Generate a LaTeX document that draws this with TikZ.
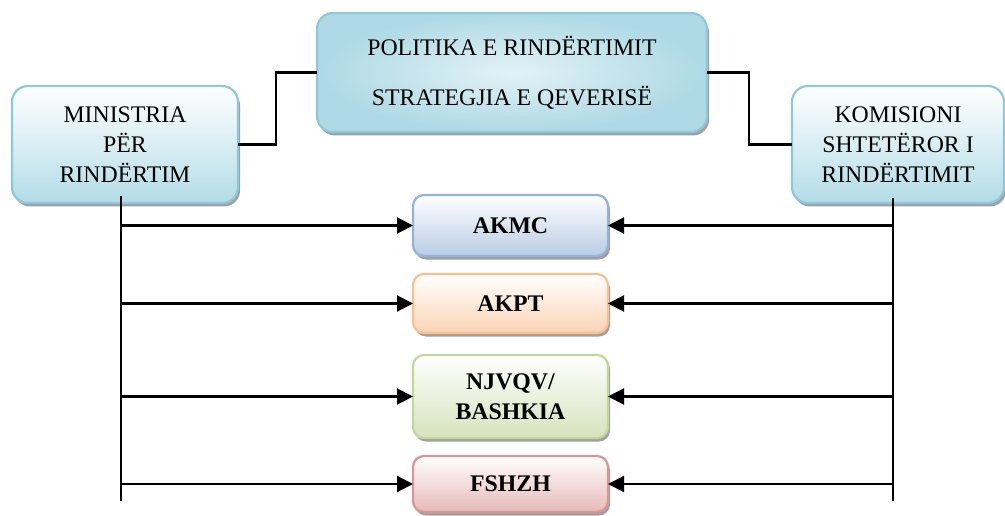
\documentclass[tikz,border=0pt]{standalone}
\usepackage{fontspec}
\setmainfont{Liberation Serif}
\usetikzlibrary{arrows.meta,shadows,shapes.misc}
\definecolor{cyanB}{HTML}{8FC9D9}
\definecolor{cyanF}{HTML}{B3DCE7}
\definecolor{cyanL}{HTML}{E3F2F6}
\definecolor{blueB}{HTML}{95B3D7}
\definecolor{blueF}{HTML}{B8CCE4}
\definecolor{orB}{HTML}{FAC090}
\definecolor{orF}{HTML}{FBD4B4}
\definecolor{grB}{HTML}{C3D69B}
\definecolor{grF}{HTML}{D6E3BC}
\definecolor{rdB}{HTML}{D99694}
\definecolor{rdF}{HTML}{E6B9B8}
\tikzset{
  boxbase/.style={draw, line width=2.2pt, outer sep=0pt, inner sep=0pt, align=center,
    font=\fontsize{23.8}{30}\selectfont,
    drop shadow={shadow xshift=2pt, shadow yshift=-3.5pt, fill=black!50, opacity=0.75}},
  bigbox/.style={boxbase, rounded corners=16pt, draw=cyanB, top color=white, bottom color=cyanF},
  smallbox/.style={boxbase, rounded corners=11pt, minimum width=195pt, font=\fontsize{23.8}{30}\selectfont\bfseries},
  conn/.style={line width=2.2pt, black},
  arr/.style={conn, -{Triangle[length=16pt,width=16pt]}}
}
\begin{document}
\begin{tikzpicture}[x=1pt,y=-1pt]
\useasboundingbox (0,0) rectangle (1005,516);
% top box
\node[boxbase, rounded corners=16pt, draw=cyanB, inner color=cyanL, outer color=cyanF!85!cyanB,
  minimum width=390pt, minimum height=119pt] (pol) at (512,72.5)
  {POLITIKA E RINDËRTIMIT\\[20pt]STRATEGJIA E QEVERISË};
% side boxes
\node[bigbox, minimum width=226pt, minimum height=117pt] (min) at (125,144.5)
  {MINISTRIA\\PËR\\RINDËRTIM};
\node[bigbox, minimum width=212pt, minimum height=117pt] (kom) at (898,144.5)
  {KOMISIONI\\SHTETËROR I\\RINDËRTIMIT};
% middle boxes
\node[smallbox, draw=blueB, top color=white, bottom color=blueF, minimum height=61pt] (akmc) at (510.5,225.5) {AKMC};
\node[smallbox, draw=orB, top color=white, bottom color=orF, minimum height=59pt] (akpt) at (510.5,303.5) {AKPT};
\node[smallbox, draw=grB, top color=white, bottom color=grF, minimum height=83pt] (njv) at (510.5,396.5) {NJVQV/\\BASHKIA};
\node[smallbox, draw=rdB, top color=white, bottom color=rdF, minimum height=56pt] (fsh) at (510.5,484) {FSHZH};
% connectors top
\draw[conn] (min.east) -- ++(38,0) |- (pol.west);
\draw[conn] (pol.east) -- ++(42,0) |- (kom.west);
% vertical lines
\coordinate (lt) at (121,196);
\coordinate (lb) at (121,501);
\coordinate (rt) at (893,198);
\coordinate (rb) at (893,501);
\draw[conn] (lt) -- (lb);
\draw[conn] (rt) -- (rb);
% arrows
\foreach \n in {akmc,akpt,njv,fsh}{
  \draw[arr] (lt |- \n.west) -- (\n.west);
  \draw[arr] (rt |- \n.east) -- (\n.east);
}
\end{tikzpicture}
\end{document}
